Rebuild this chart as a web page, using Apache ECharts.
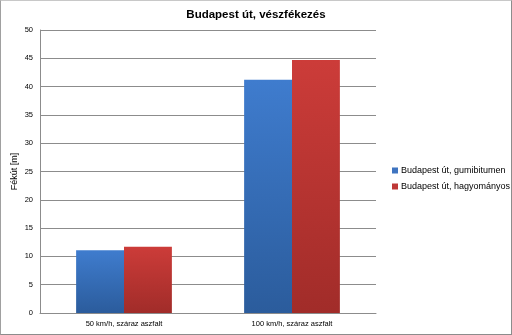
<!DOCTYPE html>
<html>
<head>
<meta charset="utf-8">
<script src="https://cdn.jsdelivr.net/npm/echarts@6/dist/echarts.min.js"></script>
<style>
  html, body { margin: 0; padding: 0; background: #fff; }
  #chart { width: 512px; height: 335px; box-sizing: border-box; border: 1px solid #8c8c8c; border-top-color: #c8c8c8; border-left-color: #a0a0a0; }
</style>
</head>
<body>
<div id="chart"></div>
<script>
// Braking distances on the Budapest road
const categories = ['50 km/h, száraz aszfalt', '100 km/h, száraz aszfalt'];
const seriesNames = ['Budapest út, gumibitumen', 'Budapest út, hagyományos'];
const rubberBitumen = [11.1, 41.2];
const conventional = [11.7, 44.7];
const yTicks = [0, 5, 10, 15, 20, 25, 30, 35, 40, 45, 50];

const font = 'Liberation Sans, Arial, sans-serif';

function grad(top, bottom) {
  return new echarts.graphic.LinearGradient(0, 0, 0, 1, [
    { offset: 0, color: top },
    { offset: 1, color: bottom }
  ]);
}

const chart = echarts.init(document.getElementById('chart'), null, { renderer: 'canvas' });
chart.setOption({
  animation: false,
  backgroundColor: '#ffffff',
  title: {
    text: 'Budapest út, vészfékezés',
    left: 'center',
    top: 3,
    textStyle: { fontFamily: font, fontSize: 11.5, fontWeight: 'bold', color: '#000' }
  },
  legend: {
    orient: 'vertical',
    left: 386,
    top: 160,
    itemWidth: 6,
    itemHeight: 6,
    itemGap: 7,
    icon: 'rect',
    textStyle: { fontFamily: font, fontSize: 9, color: '#000', padding: [0, 0, 0, -2] },
    data: [
      { name: seriesNames[0], itemStyle: { color: '#3f74c0' } },
      { name: seriesNames[1], itemStyle: { color: '#be3836' } }
    ]
  },
  grid: { left: 39, right: 135, top: 29, bottom: 21, outerBoundsMode: 'none', containLabel: false },
  xAxis: {
    type: 'category',
    data: categories,
    axisLine: { lineStyle: { color: '#8c8c8c', width: 1 } },
    axisTick: { show: false },
    axisLabel: { fontFamily: font, fontSize: 7.5, color: '#000', margin: 7 }
  },
  yAxis: {
    type: 'value',
    min: yTicks[0],
    max: yTicks[yTicks.length - 1],
    interval: yTicks[1] - yTicks[0],
    name: 'Fékút [m]',
    nameLocation: 'middle',
    nameGap: 21,
    nameMoveOverlap: false,
    nameRotate: 90,
    nameTextStyle: { fontFamily: font, fontSize: 9, color: '#000' },
    axisLine: { show: true, lineStyle: { color: '#8c8c8c', width: 1 } },
    axisTick: { show: false },
    axisLabel: { fontFamily: font, fontSize: 7.5, color: '#000', margin: 7 },
    splitLine: { lineStyle: { color: '#8c8c8c', width: 1 } }
  },
  series: [
    {
      name: seriesNames[0],
      type: 'bar',
      data: rubberBitumen,
      barGap: '0%',
      barCategoryGap: '43%',
      itemStyle: { color: grad('#3f7cce', '#2b5c9c') }
    },
    {
      name: seriesNames[1],
      type: 'bar',
      data: conventional,
      itemStyle: { color: grad('#cc3c39', '#a12c29') }
    }
  ]
});
</script>
</body>
</html>
